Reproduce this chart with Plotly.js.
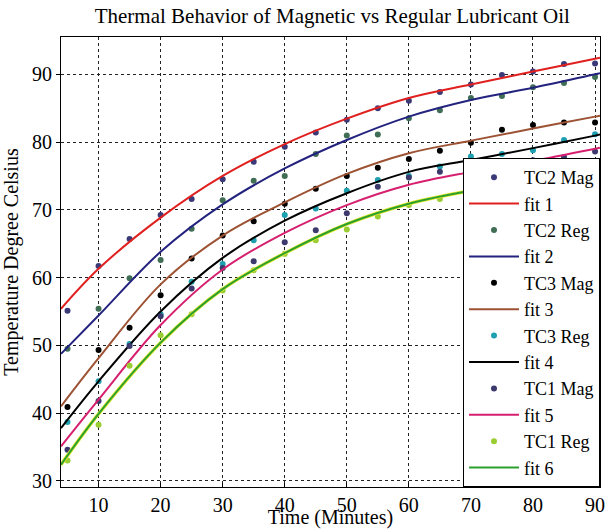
<!DOCTYPE html>
<html>
<head>
<meta charset="utf-8">
<script src="https://cdn.plot.ly/plotly-3.0.1.min.js"></script>
<style>html,body{margin:0;padding:0;background:#fff;}#chart{width:612px;height:529px;}</style>
</head>
<body>
<div id="chart"></div>
<script>
// Measurement times (minutes)
const timeX = [5,10,15,20,25,30,35,40,45,50,55,60,65,70,75,80,85,90];
// Measured temperatures
const tc2Mag = [55.1,61.7,65.7,69.25,71.6,74.5,77.1,79.3,81.4,83.3,85.0,86.1,87.4,88.5,89.9,90.4,91.5,91.6];
const tc2Reg = [49.5,55.4,59.9,62.6,67.2,71.4,74.3,75.0,78.25,80.95,81.1,83.5,84.7,86.5,86.8,88.1,88.7,89.6];
const tc3Mag = [40.9,49.3,52.6,57.4,62.8,66.2,68.3,70.9,73.1,75.0,76.2,77.5,78.7,79.9,81.8,82.5,82.9,82.9];
const tc3Reg = [38.7,44.7,50.2,54.6,59.4,62.0,65.5,69.25,70.2,72.8,74.4,75.0,76.4,77.85,78.25,78.8,80.3,81.15];
const tc1Mag = [34.6,41.8,49.9,54.3,58.4,61.4,62.4,65.2,67.0,69.5,73.4,74.75,75.6,76.2,76.9,77.3,77.8,78.6];
const tc1Reg = [33.0,38.3,47.0,51.5,54.6,58.1,61.1,63.5,65.5,67.1,69.0,70.7,71.6,73.1,74.0,74.85,75.15,75.0];
// Fitted curves, read at these times
const fitX = [3.95,10,20,30,40,50,60,70,80,90,90.8];
const fit1 = [55.4,61.3,68.85,75.0,79.7,83.45,86.5,88.5,90.4,92.3,92.45];
const fit2 = [48.75,54.4,63.8,70.8,76.1,80.3,83.75,86.2,88.0,90.0,90.15];
const fit3 = [41.0,48.1,59.0,66.2,71.1,75.3,78.35,80.2,82.0,83.75,83.9];
const fit4 = [37.8,44.7,55.0,62.9,68.4,72.45,75.6,77.35,79.1,80.95,81.1];
const fit5 = [35.1,42.0,53.0,61.2,66.6,70.7,73.7,75.6,77.2,79.0,79.15];
const fit6 = [32.4,39.9,50.4,58.3,63.6,67.9,70.9,72.8,74.15,76.1,76.25];

const xTicks = [10,20,30,40,50,60,70,80,90];
const yTicks = [30,40,50,60,70,80,90];

const serif = "'Liberation Serif', 'Times New Roman', serif";

function pts(name, y, color) {
  return {type:'scatter', mode:'markers', name:name, x:timeX, y:y,
    marker:{color:color, size:6, line:{width:0}}};
}
function fit(name, y, color) {
  return {type:'scatter', mode:'lines', name:name, x:fitX, y:y,
    line:{color:color, width:2, shape:'spline'}};
}

const traces = [
  pts('TC2 Mag', tc2Mag, '#3b3a78'),
  fit('fit 1', fit1, '#e0201f'),
  pts('TC2 Reg', tc2Reg, '#3f6e55'),
  fit('fit 2', fit2, '#23237f'),
  pts('TC3 Mag', tc3Mag, '#000000'),
  fit('fit 3', fit3, '#9c5233'),
  pts('TC3 Reg', tc3Reg, '#1fa0b0'),
  fit('fit 4', fit4, '#000000'),
  pts('TC1 Mag', tc1Mag, '#3c3a6c'),
  fit('fit 5', fit5, '#d6206f'),
  pts('TC1 Reg', tc1Reg, '#9acd32'),
  {type:'scatter', mode:'lines', x:fitX, y:fit6, showlegend:false, hoverinfo:'skip',
    line:{color:'#e8e830', width:3.5, shape:'spline'}},
  fit('fit 6', fit6, '#2ca02c')
];

const layout = {
  width:612, height:529,
  margin:{l:61, r:12, t:37, b:42},
  paper_bgcolor:'#fff', plot_bgcolor:'#fff',
  font:{family:serif, size:18, color:'#000'},
  title:{text:'Thermal Behavior of Magnetic vs Regular Lubricant Oil',
    font:{family:serif, size:21, color:'#000'}, x:0.543, xanchor:'center', y:0.985, yanchor:'top'},
  xaxis:{range:[3.95,90.8], tickvals:xTicks, ticktext:xTicks.map(String),
    showgrid:true, gridcolor:'#222', griddash:'dot', gridwidth:1,
    showline:true, linecolor:'#000', linewidth:1, mirror:true,
    ticks:'inside', ticklen:4, tickcolor:'#000', zeroline:false,
    tickfont:{family:serif, size:20},
    title:{text:'Time (Minutes)', font:{family:serif, size:20}, standoff:0}},
  yaxis:{range:[29.1,95.5], tickvals:yTicks, ticktext:yTicks.map(String),
    showgrid:true, gridcolor:'#222', griddash:'dot', gridwidth:1,
    showline:true, linecolor:'#000', linewidth:1, mirror:true,
    ticks:'outside', ticklen:4, tickcolor:'#000', zeroline:false,
    tickfont:{family:serif, size:20},
    title:{text:'Temperature Degree Celsius', font:{family:serif, size:20}, standoff:8}},
  legend:{x:1, xanchor:'right', y:0, yanchor:'bottom', bgcolor:'#fff',
    bordercolor:'#000', borderwidth:1, font:{family:serif, size:18}, itemwidth:50,
    tracegroupgap:0},
  showlegend:true
};

Plotly.newPlot('chart', traces, layout, {displayModeBar:false, staticPlot:true});
</script>
</body>
</html>
